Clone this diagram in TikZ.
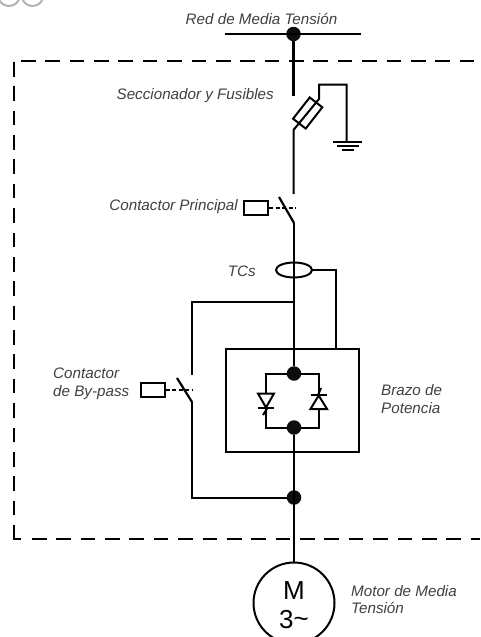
\documentclass[tikz,border=0pt]{standalone}
\usepackage{fontspec}
\setmainfont{Liberation Sans}
\usetikzlibrary{positioning,calc,shapes.geometric}
\definecolor{labelgrey}{gray}{0.25}
\definecolor{pagegrey}{gray}{0.7}

\begin{document}
\begin{tikzpicture}[x=1pt,y=-1pt,
    wire/.style={line width=2.2pt},
    thin wire/.style={line width=2pt},
    border/.style={line width=2pt, dash pattern=on 14.6pt off 9.77pt},
    tap/.style={line width=2pt, dash pattern=on 4pt off 2.5pt},
    joint/.style={circle,fill=black!95,inner sep=0pt,minimum size=14.5pt},
    coil/.style={draw,line width=2pt,inner sep=0pt,minimum width=24pt,minimum height=14pt},
    label/.style={font=\itshape\fontsize{15.2}{17.5}\selectfont,text=labelgrey,inner sep=0pt,align=left}
    ]

    \clip (0,0) rectangle (480,637);
    \path[use as bounding box] (0,0) rectangle (480,637);

    \draw[pagegrey,line width=2pt] (9,-5) circle (11);
    \draw[pagegrey,line width=2pt] (32.5,-5) circle (11);

    \draw[border] (21,60.5) -- (480,60.5);
    \draw[border] (13.5,62) -- (13.5,520);
    \draw[line width=2pt] (13.5,525) -- (13.5,539) -- (21,539);
    \draw[border] (32,539) -- (480,539);

    \node[label,anchor=center] (redlabel) at (261.5,19) {Red de Media Tensión};
    \node[label,anchor=east] (fuselabel) at (274,96) {Seccionador y Fusibles};
    \node[label,anchor=east] (mainlabel) at (238,207) {Contactor Principal};
    \node[label,anchor=east] (tclabel) at (256,271) {TCs};
    \node[label,anchor=west] (bypasslabel) at (53,384) {Contactor\\de By-pass};
    \node[label,anchor=west] (armlabel) at (381,399) {Brazo de\\Potencia};
    \node[label,anchor=west] (motorlabel) at (351,599.5) {Motor de Media\\Tensión};

    \node[joint] (netjoint) at (293.5,34) {};
    \coordinate (busleft) at (225,34);
    \coordinate (busright) at (361,34);
    \draw[thin wire] (busleft) -- (busright);

    \coordinate (fusein) at (293.5,95.5);
    \coordinate (fuseout) at (293.5,130);
    \coordinate (fusetip) at (319,99);
    \coordinate (mainin) at (293.5,194);
    \draw[wire] (netjoint) -- (fusein);
    \node[draw,line width=2pt,rotate=-38,inner sep=0pt,minimum width=16pt,minimum height=27pt] (fuse) at (307.7,113) {};
    \draw[thin wire] (mainin) -- (fuseout) -- (fusetip) -- (319,84.5) -- (346.5,84.5) -- (346.5,141.5) coordinate (earth);
    \draw[thin wire] (333,141.5) -- (362,141.5);
    \draw[thin wire] (337,146) -- (358.5,146);
    \draw[line width=2.4pt] (342,150) -- (354,150);

    \node[coil] (maincoil) at (256,208) {};
    \coordinate (mainblade) at (279,197);
    \coordinate (mainhinge) at (294,223);
    \draw[wire] (mainblade) -- (mainhinge);
    \draw[tap] (maincoil) -- (296,208);

    \node[draw,ellipse,line width=2pt,inner sep=0pt,minimum width=36pt,minimum height=15pt] (tc) at (294,270) {};
    \node[draw,line width=2pt,inner sep=0pt,minimum width=133pt,minimum height=103pt] (arm) at (292.5,400) {};
    \node[joint] (armtop) at (294,373.5) {};
    \node[joint] (armbottom) at (294,427.5) {};
    \node[joint] (motorjoint) at (294,497.5) {};
    \node[draw,circle,line width=2pt,inner sep=0pt,minimum size=81pt] (motor) at (294,603) {};
    \node[font=\fontsize{26}{26}\selectfont,inner sep=0pt] (motorm) at (294,591) {M};
    \node[font=\fontsize{26}{26}\selectfont,inner sep=0pt] (motorthree) at (294,620) {3\raisebox{1pt}{\textasciitilde}};

    \coordinate (split) at (294,302);
    \draw[wire] (mainhinge) -- (armtop);
    \draw[wire] (armbottom) -- (motor);
    \draw[thin wire] (tc.east) -- (336,270) -- (336,348);

    \coordinate (bypassin) at (192,375);
    \coordinate (bypassblade) at (177,378);
    \coordinate (bypasshinge) at (192,402);
    \node[coil] (bypasscoil) at (152.5,390) {};
    \draw[wire] (split) -- (192,302) -- (bypassin);
    \draw[wire] (bypassblade) -- (bypasshinge);
    \draw[thin wire] (bypasshinge) -- (192,497.5) -- (motorjoint);
    \draw[tap] (bypasscoil) -- (193,390);

    \draw[thin wire] (armtop) -- (266,373.5) -- (266,393.5);
    \draw[thin wire] (266,408) -- (266,427.5) -- (armbottom);
    \draw[thin wire] (armtop) -- (319,373.5) -- (319,395);
    \draw[thin wire] (319,409) -- (319,427.5) -- (armbottom);

    \draw[thin wire] (258,393.5) -- (274,393.5) -- (266,407.5) -- cycle;
    \draw[thin wire] (258,408) -- (274,408);
    \draw[thin wire] (267.5,408) -- (263,415);
    \draw[thin wire] (310.5,409) -- (327,409) -- (318.7,395.5) -- cycle;
    \draw[thin wire] (310.5,395) -- (327,395);
    \draw[thin wire] (318,395) -- (321,388);

\end{tikzpicture}
\end{document}
